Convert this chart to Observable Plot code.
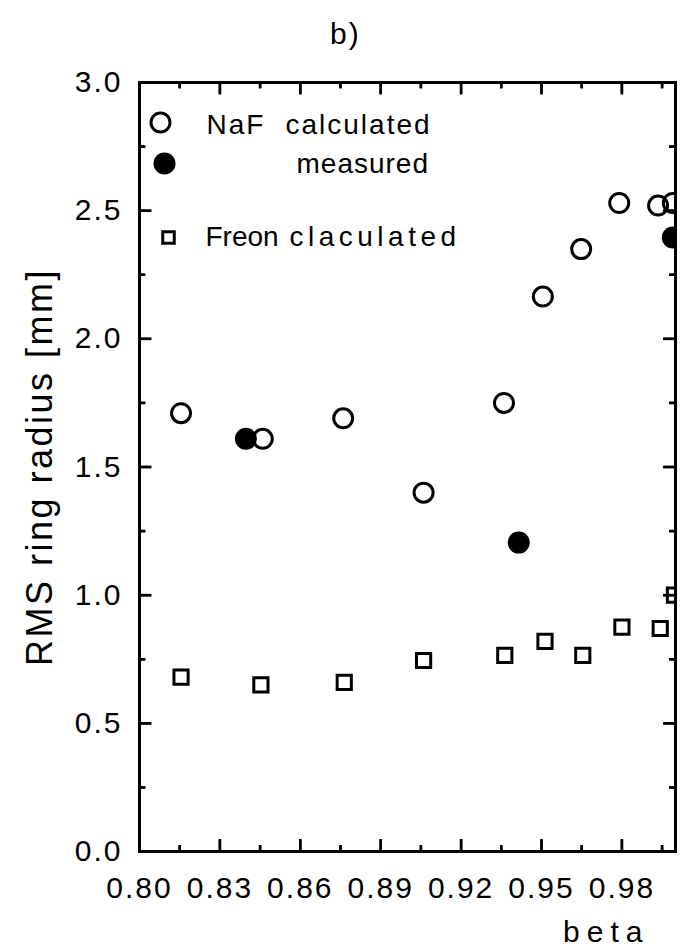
<!DOCTYPE html>
<html><head><meta charset="utf-8">
<script src="https://cdn.jsdelivr.net/npm/d3@7"></script>
<script src="https://cdn.jsdelivr.net/npm/@observablehq/plot@0.6"></script>
<style>
body{margin:0;background:#fff;font-family:"Liberation Sans",Arial,Helvetica,sans-serif;}
#title{height:60px;position:relative;}
#title span{position:absolute;left:330px;top:17px;font-size:30px;letter-spacing:2px;color:#000;}
svg text{letter-spacing:2px;}
</style></head><body>
<div id="title"><span>b)</span></div>
<div id="chart"></div>
<script>
// NaF calculated (open circles)
const nafCalcBeta = [0.8155, 0.846, 0.876, 0.906, 0.936, 0.9505, 0.9648, 0.979, 0.9935, 0.999];
const nafCalcRms  = [1.71, 1.61, 1.69, 1.40, 1.75, 2.165, 2.35, 2.53, 2.52, 2.53];
// NaF measured (filled circles)
const nafMeasBeta = [0.8397, 0.9415, 0.999];
const nafMeasRms  = [1.61, 1.205, 2.395];
// Freon calculated (open squares)
const freonBeta = [0.8155, 0.8453, 0.8764, 0.906, 0.9363, 0.9513, 0.9654, 0.980, 0.9943, 0.9996];
const freonRms  = [0.68, 0.65, 0.66, 0.745, 0.765, 0.82, 0.765, 0.875, 0.87, 1.0];

// ticks
const xMajor = [0.80, 0.83, 0.86, 0.89, 0.92, 0.95, 0.98];
const xMinor = [0.815, 0.845, 0.875, 0.905, 0.935, 0.965, 0.995];
const yMajor = [0, 0.5, 1.0, 1.5, 2.0, 2.5, 3.0];
const yMinor = [0.25, 0.75, 1.25, 1.75, 2.25, 2.75];

// legend / labels
const legendRows = ["NaF", "calculated", "measured", "Freon", "claculated"];
const xLabel = "beta";
const yLabel = "RMS ring radius [mm]";

const nafCalc = nafCalcBeta.map((b, i) => ({beta: b, rms: nafCalcRms[i]}));
const nafMeas = nafMeasBeta.map((b, i) => ({beta: b, rms: nafMeasRms[i]}));
const freon = freonBeta.map((b, i) => ({beta: b, rms: freonRms[i]}));

const W = 688, H = 890, mT = 22, mB = 99, mL = 139, mR = 13;
const fw = W - mL - mR, fh = H - mT - mB;
const xDom = [0.80, 1.00], yDom = [0, 3.0];
const big = 12, small = 6;
// tick lengths expressed in data units (pixel length / frame size * domain span)
const tyBig = big / fh * (yDom[1] - yDom[0]), tySmall = small / fh * (yDom[1] - yDom[0]);
const txBig = big / fw * (xDom[1] - xDom[0]), txSmall = small / fw * (xDom[1] - xDom[0]);
const tk = {stroke: "#000", strokeWidth: 2.5};
const lg = {frameAnchor: "top-left", textAnchor: "start", lineAnchor: "middle", fontSize: 28};

function xTicks(vals, len) {
  return [
    Plot.link(vals, {...tk, x1: d => d, x2: d => d, y1: () => yDom[0], y2: () => yDom[0] + len}),
    Plot.link(vals, {...tk, x1: d => d, x2: d => d, y1: () => yDom[1], y2: () => yDom[1] - len})
  ];
}
function yTicks(vals, len) {
  return [
    Plot.link(vals, {...tk, y1: d => d, y2: d => d, x1: () => xDom[0], x2: () => xDom[0] + len}),
    Plot.link(vals, {...tk, y1: d => d, y2: d => d, x1: () => xDom[1], x2: () => xDom[1] - len})
  ];
}

const plot = Plot.plot({
  width: W,
  height: H,
  marginTop: mT,
  marginBottom: mB,
  marginLeft: mL,
  marginRight: mR,
  style: {fontFamily: "Liberation Sans, Arial, sans-serif", color: "#000", background: "#fff"},
  x: {domain: xDom},
  y: {domain: yDom},
  marks: [
    // tick labels
    Plot.axisX(xMajor, {anchor: "bottom", tickSize: 0, tickPadding: 25, fontSize: 30, label: null, tickFormat: d3.format(".2f")}),
    Plot.axisY(yMajor, {anchor: "left", tickSize: 0, tickPadding: 17, fontSize: 30, label: null, tickFormat: d3.format(".1f")}),
    // data
    Plot.dot(freon, {x: "beta", y: "rms", symbol: "square", r: 8, stroke: "#000", strokeWidth: 3, fill: "none", clip: true}),
    Plot.dot(nafCalc, {x: "beta", y: "rms", r: 9.5, stroke: "#000", strokeWidth: 3, fill: "none", clip: true}),
    Plot.dot(nafMeas, {x: "beta", y: "rms", r: 11, fill: "#000", stroke: "none", clip: true}),
    // legend
    Plot.dot([legendRows[0]], {frameAnchor: "top-left", dx: 21, dy: 40, r: 9.5, stroke: "#000", strokeWidth: 3, fill: "none"}),
    Plot.dot([legendRows[2]], {frameAnchor: "top-left", dx: 25, dy: 81, r: 11, fill: "#000"}),
    Plot.dot([legendRows[3]], {frameAnchor: "top-left", dx: 29, dy: 155, r: 6.5, symbol: "square", stroke: "#000", strokeWidth: 3, fill: "none"}),
    Plot.text([legendRows[0]], {text: d => d, ...lg, dx: 67, dy: 43}),
    Plot.text([legendRows[1]], {text: d => d, ...lg, dx: 146, dy: 43}),
    Plot.text([legendRows[2]], {text: d => d, ...lg, dx: 157, dy: 82}),
    Plot.text([legendRows[3]], {text: d => d, ...lg, dx: 66, dy: 155}),
    Plot.text([legendRows[4]], {text: d => d, ...lg, dx: 150, dy: 155}),
    // axis labels
    Plot.text([xLabel], {text: d => d, frameAnchor: "bottom-right", dx: -26, dy: 81, textAnchor: "end", lineAnchor: "middle", fontSize: 30}),
    Plot.text([yLabel], {text: d => d, frameAnchor: "left", dx: -99, rotate: -90, textAnchor: "middle", lineAnchor: "middle", fontSize: 36}),
    // inward ticks on all four sides (drawn last)
    ...xTicks(xMajor, tyBig),
    ...xTicks(xMinor, tySmall),
    ...yTicks(yMajor, txBig),
    ...yTicks(yMinor, txSmall),
    Plot.ruleX(xMajor, {...tk, insetTop: fh - big}),
    Plot.ruleX(xMinor, {...tk, insetTop: fh - small}),
    Plot.ruleX(xMajor, {...tk, insetBottom: fh - big}),
    Plot.ruleX(xMinor, {...tk, insetBottom: fh - small}),
    Plot.ruleY(yMajor, {...tk, insetRight: fw - big}),
    Plot.ruleY(yMinor, {...tk, insetRight: fw - small}),
    Plot.ruleY(yMajor, {...tk, insetLeft: fw - big}),
    Plot.ruleY(yMinor, {...tk, insetLeft: fw - small}),
    Plot.frame({strokeWidth: 3})
  ]
});
document.getElementById("chart").appendChild(plot);
d3.select(plot).selectAll("text").each(function() {
  const t = this.textContent;
  if (t === xLabel) d3.select(this).style("letter-spacing", "7px");
  else if (t === yLabel) d3.select(this).style("letter-spacing", "2.5px");
  else if (t === legendRows[4]) d3.select(this).style("letter-spacing", "4.5px");
  else if (t === legendRows[3]) d3.select(this).style("letter-spacing", "0px");
  else if (t === legendRows[2]) d3.select(this).style("letter-spacing", "1px");
});
</script>
</body></html>
